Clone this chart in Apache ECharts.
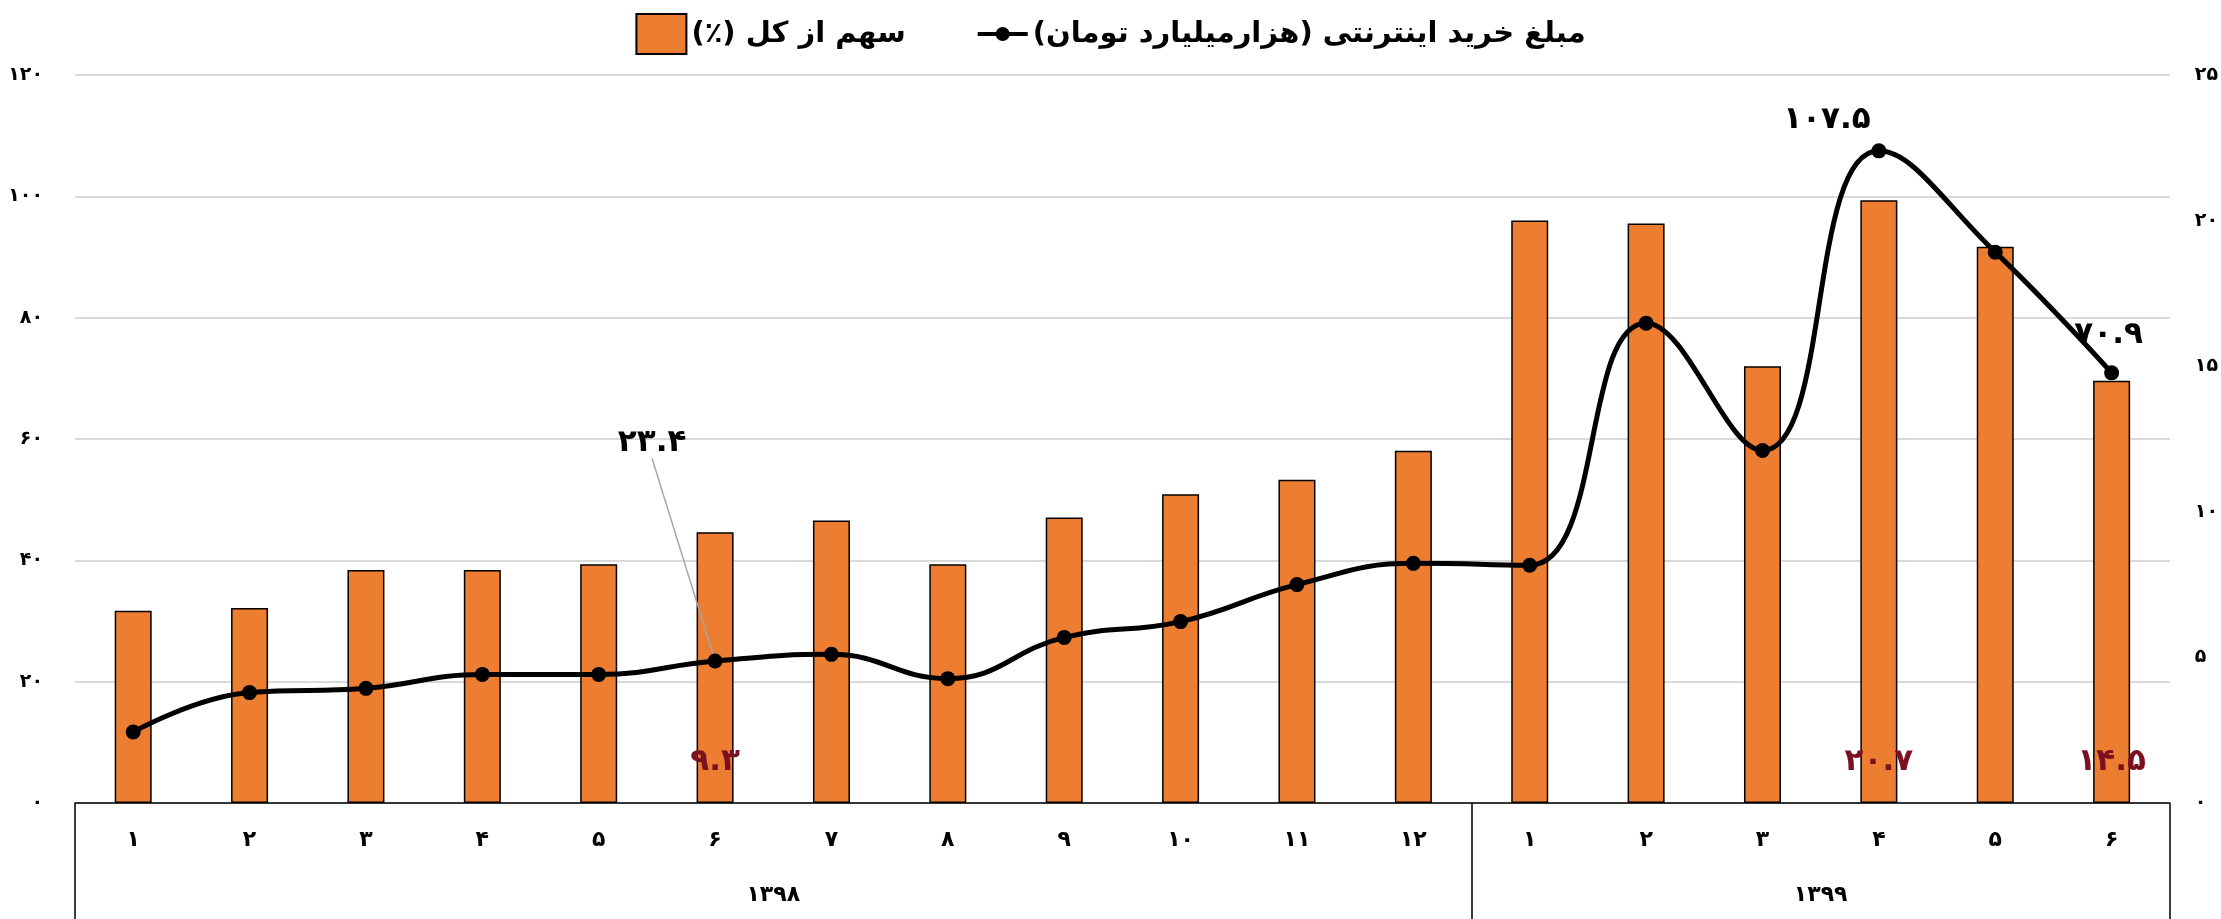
<!DOCTYPE html>
<html>
<head>
<meta charset="utf-8">
<script src="https://cdn.jsdelivr.net/npm/echarts@6/dist/echarts.min.js"></script>
<style>
  html, body { margin: 0; padding: 0; background: #fff; }
  #chart { width: 2221px; height: 919px; }
</style>
</head>
<body>
<div id="chart" dir="rtl"></div>
<script>
  // دو سطح محور افقی: ماه و سال
  const months = ['۱', '۲', '۳', '۴', '۵', '۶', '۷', '۸', '۹', '۱۰', '۱۱', '۱۲', '۱', '۲', '۳', '۴', '۵', '۶'];
  const years = ['۱۳۹۸', '۱۳۹۹'];
  const yearLengths = [12, 6];

  // مبلغ خرید اینترنتی (هزارمیلیارد تومان) - محور چپ
  const purchaseAmount = [11.7, 18.2, 18.9, 21.2, 21.2, 23.4, 24.5, 20.5, 27.3, 29.9, 36.0, 39.5, 39.2, 79.1, 58.1, 107.5, 90.8, 70.9];
  // سهم از کل (٪) - محور راست
  const shareOfTotal = [6.6, 6.7, 8.0, 8.0, 8.2, 9.3, 9.7, 8.2, 9.8, 10.6, 11.1, 12.1, 20.0, 19.9, 15.0, 20.7, 19.1, 14.5];

  const lineLabelIdx = [5, 15, 17];
  const barLabelIdx = [5, 15, 17];

  const FONT = 'DejaVu Sans';
  const fa = (n) => String(n).replace(/\d/g, (d) => '۰۱۲۳۴۵۶۷۸۹'[d]);

  // مرزها و مرکز هر سال روی محور مقدار کمکی
  const yearEdges = [0];
  yearLengths.forEach((n) => yearEdges.push(yearEdges[yearEdges.length - 1] + n));
  const yearCenters = years.map((y, i) => (yearEdges[i] + yearEdges[i + 1]) / 2);

  // جابجایی برچسب‌های خط نسبت به جای پیش‌فرض
  const lineLabelShift = {
    5: { dx: -63, dy: -190 },
    15: { dx: -52, dy: -3 },
    17: { dx: -3, dy: -10 }
  };

  const BAR_NAME = 'سهم از کل (٪)';
  const LINE_NAME = 'مبلغ خرید اینترنتی (هزارمیلیارد تومان)';

  const chart = echarts.init(document.getElementById('chart'), null, { renderer: 'canvas' });

  chart.setOption({
    animation: false,
    textStyle: { fontFamily: FONT },
    legend: {
      top: 8,
      left: 'center',
      itemWidth: 50,
      itemHeight: 40,
      itemGap: 72,
      textStyle: { fontFamily: FONT, fontSize: 29, fontWeight: 'bold', color: '#000' },
      data: [
        { name: BAR_NAME, icon: 'rect' },
        { name: LINE_NAME, icon: 'path://M0,7 L50,7 L50,11 L0,11 Z M25,2 A7,7 0 1 1 25,16 A7,7 0 1 1 25,2 Z' }
      ]
    },
    grid: { left: 75, right: 49, top: 75, bottom: 116 },
    xAxis: [
      {
        type: 'category',
        data: months,
        axisLine: { lineStyle: { color: '#000', width: 1.5 } },
        axisTick: { show: false },
        axisLabel: { fontFamily: FONT, fontSize: 22, fontWeight: 'bold', color: '#000', margin: 26 }
      },
      {
        type: 'value',
        position: 'bottom',
        min: 0,
        max: yearEdges[yearEdges.length - 1],
        axisLine: { show: false },
        splitLine: { show: false },
        axisTick: {
          show: true,
          customValues: yearEdges,
          length: 120,
          lineStyle: { color: '#000', width: 1.5 }
        },
        axisLabel: {
          customValues: yearCenters,
          formatter: (v) => years[yearCenters.indexOf(v)] || '',
          fontFamily: FONT, fontSize: 22, fontWeight: 'bold', color: '#000', margin: 81
        }
      }
    ],
    yAxis: [
      {
        type: 'value',
        min: 0,
        max: 120,
        interval: 20,
        axisLine: { show: false },
        axisTick: { show: false },
        splitLine: { lineStyle: { color: '#d9d9d9', width: 2 } },
        axisLabel: { formatter: fa, fontFamily: FONT, fontSize: 19, fontWeight: 'bold', color: '#000', margin: 32 }
      },
      {
        type: 'value',
        min: 0,
        max: 25,
        interval: 5,
        axisLine: { show: false },
        axisTick: { show: false },
        splitLine: { show: false },
        axisLabel: { formatter: fa, fontFamily: FONT, fontSize: 19, fontWeight: 'bold', color: '#000', margin: 25 }
      }
    ],
    series: [
      {
        name: BAR_NAME,
        type: 'bar',
        yAxisIndex: 1,
        barWidth: 37,
        itemStyle: { color: '#ED7D31', borderColor: '#000', borderWidth: 1.5 },
        data: shareOfTotal.map((v, i) => barLabelIdx.includes(i) ? {
          value: v,
          label: {
            show: true,
            position: 'insideBottom',
            distance: 26,
            formatter: (p) => fa(p.value),
            fontFamily: FONT, fontSize: 31, fontWeight: 'bold', color: '#7B1020'
          }
        } : v)
      },
      {
        name: LINE_NAME,
        type: 'line',
        yAxisIndex: 0,
        smooth: 0.45,
        symbol: 'circle',
        symbolSize: 15,
        z: 5,
        lineStyle: { color: '#000', width: 5 },
        itemStyle: { color: '#000' },
        labelLine: { show: true, lineStyle: { color: '#a6a6a6', width: 1.5 } },
        labelLayout: (p) => lineLabelShift[p.dataIndex] || {},
        data: purchaseAmount.map((v, i) => lineLabelIdx.includes(i) ? {
          value: v,
          label: {
            show: true,
            position: 'top',
            formatter: (p) => fa(p.value),
            fontFamily: FONT, fontSize: 31, fontWeight: 'bold', color: '#000'
          },
          labelLine: { show: i === 5 }
        } : { value: v, labelLine: { show: false } })
      }
    ]
  });
</script>
</body>
</html>
